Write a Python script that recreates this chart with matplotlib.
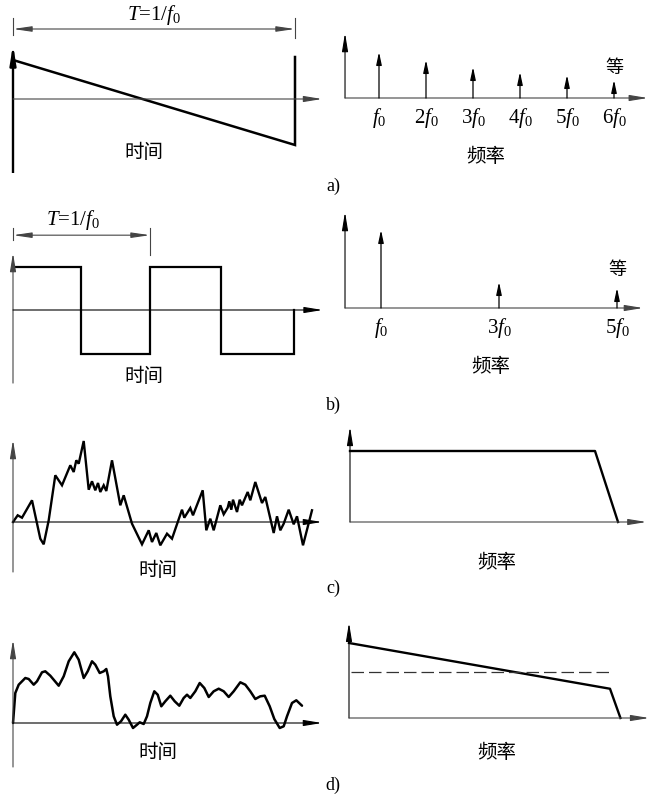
import matplotlib
matplotlib.use('Agg')
import matplotlib.pyplot as plt

plt.rcParams['font.family'] = ['Liberation Serif', 'Noto Sans CJK SC']
plt.rcParams['mathtext.fontset'] = 'custom'
plt.rcParams['mathtext.rm'] = 'Liberation Serif'
plt.rcParams['mathtext.it'] = 'Liberation Serif:italic'

W, H = 650, 799
CJK = ['Noto Sans CJK SC']
AXC = '#444444'
MATH_SIZE = 15

# a) sawtooth and its line spectrum
saw_t = [0, 1, 1]
saw_v = [39, -46, 42]
spec_a_n = [1, 2, 3, 4, 5, 6]
spec_a_amp = [46, 38, 31, 26, 23, 18]
spec_a_lab = ['$f_0$', '$2f_0$', '$3f_0$', '$4f_0$', '$5f_0$', '$6f_0$']

# b) square wave and its odd harmonics
sq_t = [0, 0.5, 0.5, 1, 1, 1.52, 1.52, 2.05, 2.05]
sq_v = [1, 1, -1, -1, 1, 1, -1, -1, 0]
spec_b_n = [1, 3, 5]
spec_b_amp = [78, 26, 20]
spec_b_lab = ['$f_0$', '$3f_0$', '$5f_0$']

# c) white noise
noise_t = [0, 4.7, 9, 19, 27.3, 30.7, 35.7, 42.3, 49, 57.3, 60.7, 63.3, 65.7, 70.7,
           75.7, 79, 82.3, 85, 87.3, 90.7, 93.3, 99, 107.3, 110.7, 119, 129, 135.7,
           139, 143.3, 147.3, 154, 159, 169, 171.3, 177.3, 180, 189.7, 193.3, 197.3,
           200.7, 207.3, 210.7, 214.7, 216.3, 218.3, 220, 224, 226.7, 229, 234.7,
           237.3, 242.3, 249, 252.3, 260.7, 264, 267.3, 270.7, 275.7, 280.7, 284,
           290, 299]
noise_v = [0, 6.7, 4.3, 21.7, -16.7, -22.3, 1.7, 46.7, 36.7, 56.7, 50, 61.7, 58.3, 81,
           32.3, 40.7, 31.7, 39, 30, 36.7, 31, 61.7, 16.7, 26.7, -1.7, -22.3, -8.3,
           -20, -11, -23.3, -11.7, -16.7, 12.3, 4.3, 14, 6.7, 31.7, -8.3, 3.3,
           -8.3, 16.7, 7.7, 14.3, 20.7, 12.3, 22.3, 10, 22.3, 16.7, 30,
           21.7, 40, 19, 25, -11, 5.7, -8.3, -1.7, 12.3, -2.3, 5.7,
           -23.3, 11.7]
flat_f = [0, 1.0, 1.094]
flat_p = [1, 1, 0]

# d) pink noise
pink_t = [0, 2.3, 5.7, 12.3, 15.7, 20.7, 24, 29, 32.3, 37.3, 45.7, 50.7, 55.7, 61.3,
          65.7, 70.7, 74.7, 79, 82.3, 86.7, 90.7, 93.3, 95, 97.3, 100.7, 104, 108,
          112.3, 115.7, 120, 124, 126.7, 130.7, 134, 137.3, 141.3, 144.7, 148.3,
          152.3, 157.3, 161.7, 166.3, 170.7, 174, 177.3, 182.3, 186.7, 191.3, 195.7,
          200.7, 205.7, 210.7, 215.7, 220.7, 227.3, 232.3, 237.3, 242.3, 247.3,
          251.7, 256.7, 261.3, 266.7, 270.7, 274, 279, 283.3, 289]
pink_v = [0, 30, 38.3, 45, 44, 38.3, 41.7, 50.7, 51.7, 47.3, 37.3, 46.7, 61.7, 70.7,
          63.3, 45, 51.7, 61.7, 58.3, 50, 51.7, 54, 46.7, 26.7, 6.7, -1.7, 1.7,
          8.3, 3.3, -5, -1.7, 0.7, -1, 6.7, 20, 31.7, 28.3, 16.7,
          21.7, 27.3, 21.7, 17.3, 25, 28.3, 25, 31.7, 40, 35, 26,
          31.7, 34.3, 31.7, 26, 31.7, 40.7, 38.3, 31.7, 24, 26.7,
          27.3, 16.7, 4, -5, -3.3, 6.7, 20, 22.7, 17.3]
slope_f = [0, 1.0, 1.04]
slope_p = [1.0, 0.39, 0]
mean_p = 0.61
mean_f = [0.008, 1.01]

fig = plt.figure(figsize=(W / 100, H / 100), dpi=100)


def panel(box, origin, scale):
    # box and origin in pixels, scale = pixels per data unit
    l, t, r, b = box
    ox, oy = origin
    sx, sy = scale
    ax = fig.add_axes([l / W, 1 - b / H, (r - l) / W, (b - t) / H])
    ax.set_xlim((l - ox) / sx, (r - ox) / sx)
    ax.set_ylim((oy - b) / sy, (oy - t) / sy)
    ax.axis('off')
    return ax


def arrow(ax, start, end, lw=0.8, color=AXC, hl=1.1, hw=0.18, style='-|>'):
    ax.annotate('', xy=end, xytext=start,
                arrowprops=dict(arrowstyle=f'{style},head_length={hl},head_width={hw}',
                                lw=lw, color=color, shrinkA=0, shrinkB=0,
                                mutation_scale=10))


def ftext(x, y, s, size=14, family=None, **kw):
    fig.text(x / W, 1 - y / H, s, fontsize=size, ha='center', va='center',
             family=family or plt.rcParams['font.family'], **kw)


def spectrum(ax, ns, amps, labels, y0, y_top, x_end, deng_h):
    arrow(ax, (y0, 0), (y0, y_top), color='black')
    arrow(ax, (y0, 0), (x_end, 0))
    for n, a, lab in zip(ns, amps, labels):
        arrow(ax, (n, 0), (n, a), lw=0.9, color='black', hl=0.75, hw=0.16)
        ax.text(n, -8, lab, fontsize=MATH_SIZE, ha='center', va='top')
    ax.text(ns[-1], deng_h, '等', fontsize=13, ha='center', va='center', family=CJK)


# ---- a) ----
ax = panel((0, 0, 330, 180), (13, 99), (282, 1))
ax.plot([0, 0], [-74, 46], color='black', lw=1.7, solid_capstyle='butt')
arrow(ax, (0, 40), (0, 54), lw=1.7, color='black')
arrow(ax, (0, 0), (1.096, 0))
ax.plot(saw_t, saw_v, color='black', lw=1.8, solid_joinstyle='miter')
arrow(ax, (0, 70), (1, 70), lw=0.8, style='<|-|>', hl=1.1, hw=0.16)
ax.plot([0, 0], [64, 81], color=AXC, lw=0.8)
ax.plot([1, 1], [61, 81], color=AXC, lw=0.8)
ax.text(0.5, 84, '$T$=1/$f_0$', fontsize=MATH_SIZE, ha='center', va='center')
ftext(144, 152, '时间', family=CJK)

ax = panel((330, 20, 650, 140), (332, 98), (47, 1))
spectrum(ax, spec_a_n, spec_a_amp, spec_a_lab, 0.277, 65, 6.72, 30)
ftext(486, 156, '频率', family=CJK)
ftext(333, 186, 'a)', size=13)

# ---- b) ----
ax = panel((0, 200, 330, 390), (13, 310), (137, 43.5))
arrow(ax, (0, -1.68), (0, 1.31))
arrow(ax, (0, 0), (2.26, 0), color='black')
ax.plot(sq_t, sq_v, color='black', lw=1.6, solid_joinstyle='miter')
arrow(ax, (0, 1.72), (1, 1.72), lw=0.8, style='<|-|>', hl=1.1, hw=0.16)
ax.plot([0, 0], [1.61, 1.89], color=AXC, lw=0.8)
ax.plot([1, 1], [1.26, 1.89], color=AXC, lw=0.8)
ax.text(0.44, 2.07, '$T$=1/$f_0$', fontsize=MATH_SIZE, ha='center', va='center')
ftext(144, 377, '时间', family=CJK)

ax = panel((330, 200, 650, 340), (322, 308), (59, 1))
spectrum(ax, spec_b_n, spec_b_amp, spec_b_lab, 0.39, 96, 5.44, 38)
ftext(491, 367, '频率', family=CJK)
ftext(333, 405, 'b)', size=13)

# ---- c) ----
ax = panel((0, 420, 330, 580), (13, 522), (1, 1))
arrow(ax, (0, -50), (0, 82))
arrow(ax, (0, 0), (309, 0), color='black')
ax.plot(noise_t, noise_v, color='black', lw=1.7, solid_joinstyle='miter')
ftext(158, 571, '时间', family=CJK)

ax = panel((330, 420, 650, 540), (350, 522), (245, 71))
arrow(ax, (0, 0), (0, 1.34), color='black')
arrow(ax, (0, 0), (1.21, 0))
ax.plot(flat_f, flat_p, color='black', lw=1.7)
ftext(497, 562, '频率', family=CJK)
ftext(333, 588, 'c)', size=13)

# ---- d) ----
ax = panel((0, 630, 330, 775), (13, 723), (1, 1))
arrow(ax, (0, -44), (0, 83))
arrow(ax, (0, 0), (309, 0), color='black')
ax.plot(pink_t, pink_v, color='black', lw=1.8, solid_joinstyle='round',
        solid_capstyle='round')
ftext(158, 752, '时间', family=CJK)

ax = panel((330, 615, 650, 730), (349, 718), (261, 75))
arrow(ax, (0, 0), (0, 1.27), color='black')
arrow(ax, (0, 0), (1.15, 0))
ax.plot(slope_f, slope_p, color='black', lw=1.7)
ax.plot(mean_f, [mean_p, mean_p], color='#333333', lw=0.9, ls=(0, (10, 4)))
ftext(497, 752, '频率', family=CJK)
ftext(333, 785, 'd)', size=13)

fig.savefig('out.png', dpi=100, facecolor='white')
